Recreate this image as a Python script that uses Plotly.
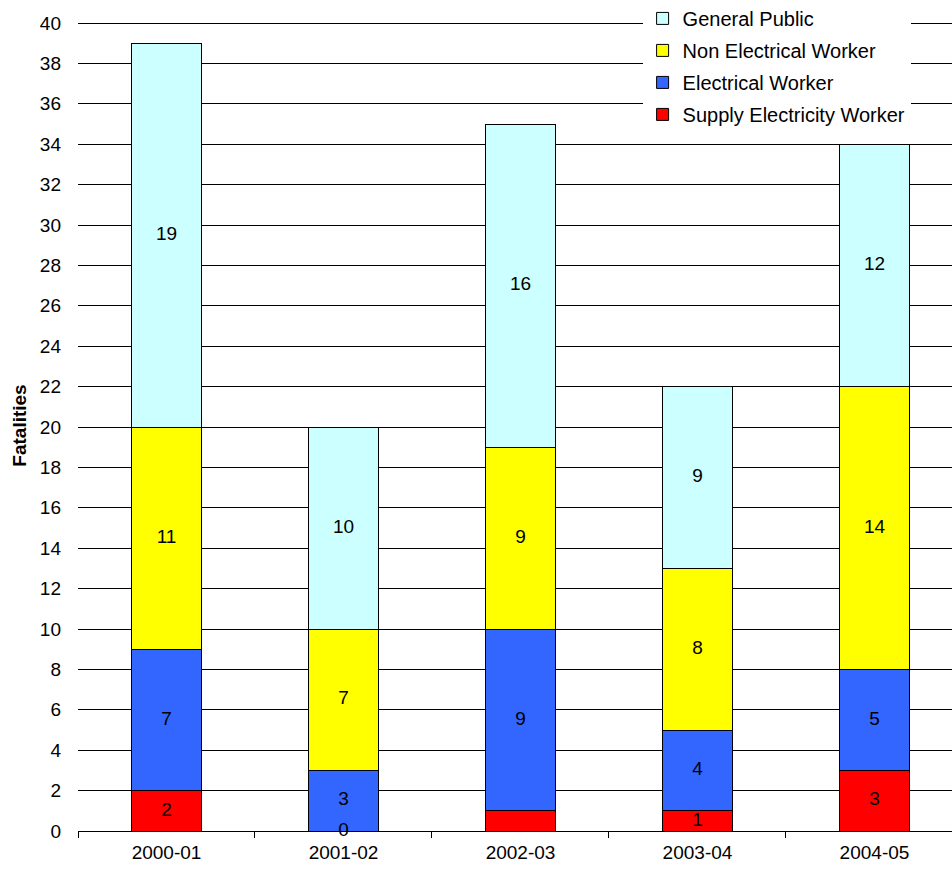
import plotly.graph_objects as go
import numpy as np

years = ["2000-01", "2001-02", "2002-03", "2003-04", "2004-05"]
supply_worker = [2, 0, 1, 1, 3]
electrical_worker = [7, 3, 9, 4, 5]
non_electrical_worker = [11, 7, 9, 8, 14]
general_public = [19, 10, 16, 9, 12]

# which value labels are printed for each series
supply_labels = ["2", "0", "", "1", "3"]

series = [
    ("Supply Electricity Worker", supply_worker, "#FF0000", 4),
    ("Electrical Worker", electrical_worker, "#3366FF", 3),
    ("Non Electrical Worker", non_electrical_worker, "#FFFF00", 2),
    ("General Public", general_public, "#CCFFFF", 1),
]

FONT = "Liberation Sans, Arial, sans-serif"
FS = 19

fig = go.Figure()
base = np.zeros(len(years))
label_x, label_y, label_t = [], [], []
for name, vals, color, rank in series:
    vals = np.array(vals, dtype=float)
    fig.add_trace(go.Bar(
        name=name, x=years, y=vals, marker=dict(color=color, line=dict(color="#000000", width=1)),
        width=0.4, legendgroup=name, legendrank=rank, hoverinfo="skip",
    ))
    texts = supply_labels if name == "Supply Electricity Worker" else [str(int(v)) for v in vals]
    for i, yr in enumerate(years):
        if texts[i]:
            label_x.append(yr)
            label_y.append(base[i] + vals[i] / 2)
            label_t.append(texts[i])
    base = base + vals

fig.add_trace(go.Scatter(
    x=label_x, y=label_y, text=label_t, mode="text", showlegend=False,
    textfont=dict(family=FONT, size=FS, color="#000000"), hoverinfo="skip", cliponaxis=False,
))

fig.update_layout(
    barmode="stack",
    width=952, height=873,
    margin=dict(l=78, r=0, t=20, b=42, autoexpand=False),
    paper_bgcolor="#FFFFFF", plot_bgcolor="#FFFFFF",
    font=dict(family=FONT, size=FS, color="#000000"),
    legend=dict(
        x=0.646, y=1.026, xanchor="left", yanchor="top",
        bgcolor="#FFFFFF", traceorder="grouped", tracegroupgap=3,
        font=dict(family=FONT, size=20, color="#000000"),
        itemwidth=30,
    ),
    showlegend=True,
)
fig.update_xaxes(
    type="category", range=[-0.5, 4.438], tickson="boundaries", ticks="outside",
    ticklen=6, tickcolor="#000000", showline=True, linecolor="#000000", linewidth=1,
    showgrid=False, tickfont=dict(size=FS), ticklabelstandoff=4,
)
fig.update_yaxes(
    range=[0, 40.15], dtick=2, showgrid=True, gridcolor="#000000", gridwidth=1,
    showline=False, zeroline=False, ticks="", tickfont=dict(size=FS),
    ticklabelstandoff=16,
    title=dict(text="<b>Fatalities</b>", font=dict(size=FS), standoff=8),
)

fig.write_html("out.html")
